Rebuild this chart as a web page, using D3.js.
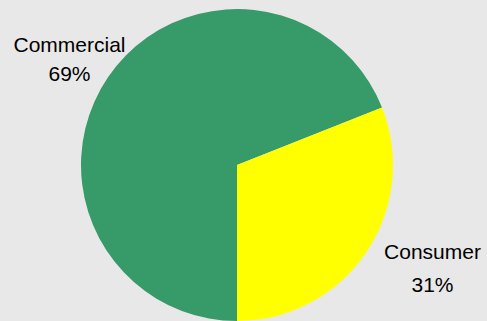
<!DOCTYPE html>
<html>
<head>
<meta charset="utf-8">
<script src="https://cdn.jsdelivr.net/npm/d3@7"></script>
<style>
  html, body { margin: 0; padding: 0; background: #e8e8e8; }
  svg { display: block; }
</style>
</head>
<body>
<svg id="chart" width="487" height="321"></svg>
<script>
// Segment shares (percent)
const categories = ["Commercial", "Consumer"];
const shares = [69, 31];
const sliceColors = ["#379a69", "#ffff00"];

const width = 487, height = 321;
const cx = 237, cy = 165, radius = 156;

const svg = d3.select("#chart");
svg.append("rect").attr("width", width).attr("height", height).attr("fill", "#e8e8e8");

const data = categories.map((c, i) => ({ category: c, value: shares[i] }));

// Start at six o'clock and sweep clockwise
const pie = d3.pie()
  .value(d => d.value)
  .sort(null)
  .startAngle(Math.PI)
  .endAngle(3 * Math.PI);

const arc = d3.arc().innerRadius(0).outerRadius(radius);
const color = d3.scaleOrdinal().domain(categories).range(sliceColors);

const g = svg.append("g").attr("transform", `translate(${cx},${cy})`);
const arcs = pie(data);

g.selectAll("path")
  .data(arcs)
  .join("path")
  .attr("d", arc)
  .attr("fill", d => color(d.data.category));

// Outside labels: name and percentage, placed beyond each slice
const labelPos = {
  "Commercial": { x: 69.5, y: 52, gap: 29 },
  "Consumer": { x: 432.5, y: 259, gap: 33 }
};

const labels = svg.append("g")
  .attr("font-family", "'Liberation Sans', Arial, sans-serif")
  .attr("font-size", 21)
  .attr("fill", "#000")
  .attr("text-anchor", "middle");

arcs.forEach(a => {
  const p = labelPos[a.data.category];
  labels.append("text").attr("x", p.x).attr("y", p.y).text(a.data.category);
  labels.append("text").attr("x", p.x).attr("y", p.y + p.gap).text(a.data.value + "%");
});
</script>
</body>
</html>
